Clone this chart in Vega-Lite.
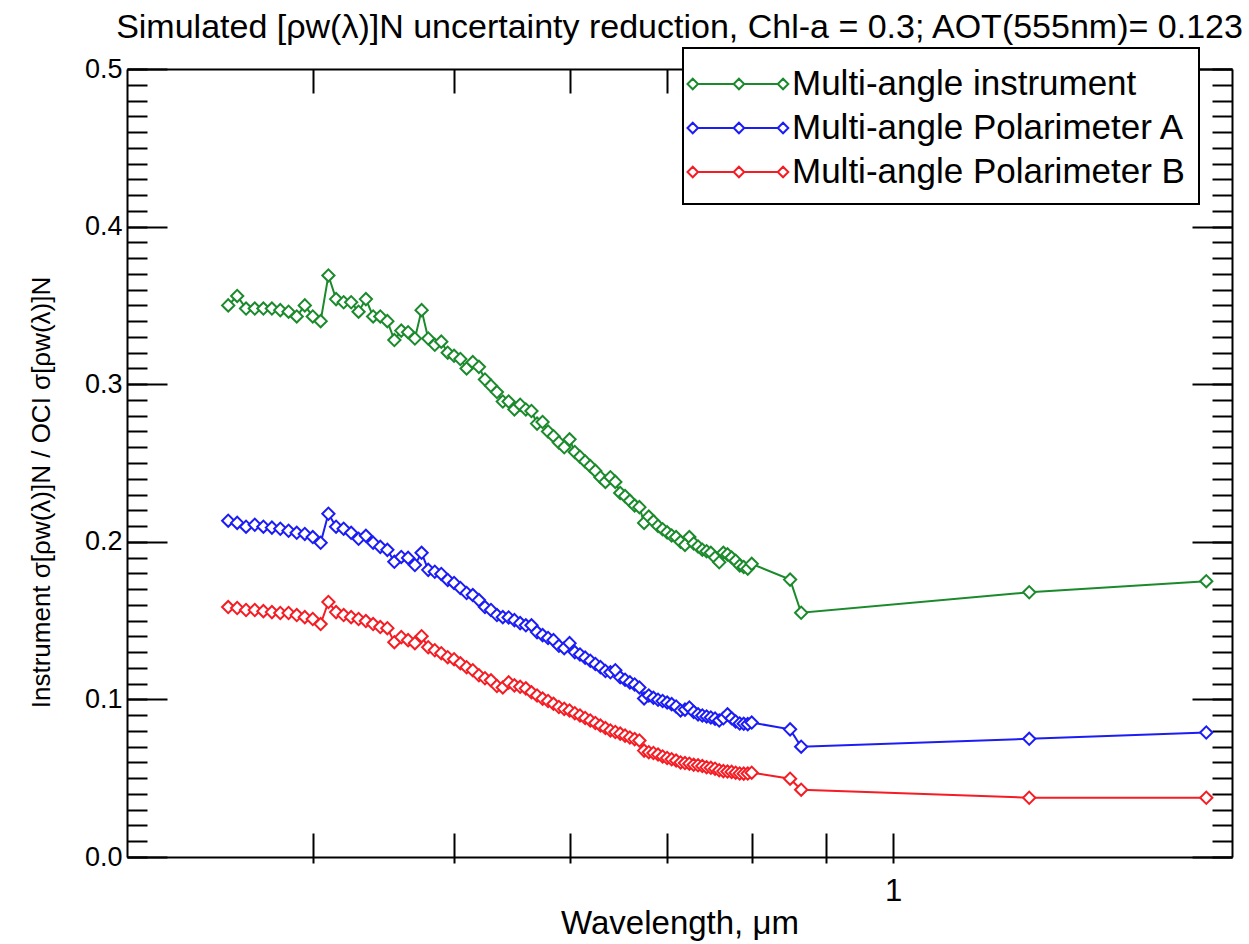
{
  "$schema": "https://vega.github.io/schema/vega-lite/v6.json",
  "width": 1105,
  "height": 788,
  "autosize": {"type": "none"},
  "padding": {"left": 127, "top": 69, "right": 17, "bottom": 87},
  "background": "white",
  "config": {
    "font": "Liberation Sans",
    "view": {"stroke": null},
    "legend": {"strokeWidth": 2},
    "axis": {"grid": false, "domainColor": "black", "domainWidth": 2, "tickColor": "black", "tickWidth": 2, "labelColor": "black", "titleColor": "black", "labelFont": "Liberation Sans", "titleFont": "Liberation Sans", "labelFontSize": 27, "titleFontSize": 26, "titleFontWeight": "normal", "labelOverlap": false, "labelFlush": false}
  },
  "title": {"text": "Simulated [ρw(λ)]N uncertainty reduction, Chl-a = 0.3; AOT(555nm)= 0.123", "font": "Liberation Sans", "fontSize": 34, "fontWeight": "normal", "color": "black", "anchor": "middle", "frame": "group", "offset": 2},
  "data": {
    "values": [
      {"w": 0.350, "g": 0.350, "b": 0.2134, "r": 0.1586},
      {"w": 0.355, "g": 0.356, "b": 0.2120, "r": 0.1580},
      {"w": 0.360, "g": 0.348, "b": 0.2096, "r": 0.1567},
      {"w": 0.365, "g": 0.348, "b": 0.2108, "r": 0.1567},
      {"w": 0.370, "g": 0.348, "b": 0.2096, "r": 0.1560},
      {"w": 0.375, "g": 0.348, "b": 0.2090, "r": 0.1554},
      {"w": 0.380, "g": 0.347, "b": 0.2083, "r": 0.1548},
      {"w": 0.385, "g": 0.346, "b": 0.2070, "r": 0.1548},
      {"w": 0.390, "g": 0.343, "b": 0.2057, "r": 0.1535},
      {"w": 0.395, "g": 0.350, "b": 0.2050, "r": 0.1522},
      {"w": 0.400, "g": 0.343, "b": 0.2030, "r": 0.1510},
      {"w": 0.405, "g": 0.340, "b": 0.1994, "r": 0.1478},
      {"w": 0.410, "g": 0.369, "b": 0.2178, "r": 0.1618},
      {"w": 0.415, "g": 0.354, "b": 0.2096, "r": 0.1554},
      {"w": 0.420, "g": 0.352, "b": 0.2083, "r": 0.1535},
      {"w": 0.425, "g": 0.352, "b": 0.2057, "r": 0.1522},
      {"w": 0.430, "g": 0.346, "b": 0.2019, "r": 0.1510},
      {"w": 0.435, "g": 0.354, "b": 0.2038, "r": 0.1497},
      {"w": 0.440, "g": 0.343, "b": 0.1994, "r": 0.1478},
      {"w": 0.445, "g": 0.343, "b": 0.1968, "r": 0.1459},
      {"w": 0.450, "g": 0.340, "b": 0.1949, "r": 0.1452},
      {"w": 0.455, "g": 0.328, "b": 0.1873, "r": 0.1363},
      {"w": 0.460, "g": 0.334, "b": 0.1904, "r": 0.1395},
      {"w": 0.465, "g": 0.333, "b": 0.1898, "r": 0.1376},
      {"w": 0.470, "g": 0.329, "b": 0.1853, "r": 0.1357},
      {"w": 0.475, "g": 0.347, "b": 0.1930, "r": 0.1401},
      {"w": 0.480, "g": 0.329, "b": 0.1822, "r": 0.1331},
      {"w": 0.485, "g": 0.325, "b": 0.1810, "r": 0.1312},
      {"w": 0.490, "g": 0.327, "b": 0.1796, "r": 0.1293},
      {"w": 0.495, "g": 0.320, "b": 0.1758, "r": 0.1268},
      {"w": 0.500, "g": 0.318, "b": 0.1739, "r": 0.1255},
      {"w": 0.505, "g": 0.316, "b": 0.1707, "r": 0.1229},
      {"w": 0.510, "g": 0.310, "b": 0.1675, "r": 0.1204},
      {"w": 0.515, "g": 0.314, "b": 0.1662, "r": 0.1185},
      {"w": 0.520, "g": 0.311, "b": 0.1630, "r": 0.1153},
      {"w": 0.525, "g": 0.303, "b": 0.1586, "r": 0.1134},
      {"w": 0.530, "g": 0.299, "b": 0.1567, "r": 0.1121},
      {"w": 0.535, "g": 0.295, "b": 0.1535, "r": 0.1085},
      {"w": 0.540, "g": 0.289, "b": 0.1522, "r": 0.1076},
      {"w": 0.545, "g": 0.289, "b": 0.1520, "r": 0.1108},
      {"w": 0.550, "g": 0.284, "b": 0.1503, "r": 0.1089},
      {"w": 0.555, "g": 0.287, "b": 0.1484, "r": 0.1080},
      {"w": 0.560, "g": 0.284, "b": 0.1470, "r": 0.1070},
      {"w": 0.565, "g": 0.283, "b": 0.1470, "r": 0.1045},
      {"w": 0.570, "g": 0.275, "b": 0.1427, "r": 0.1025},
      {"w": 0.575, "g": 0.276, "b": 0.1408, "r": 0.1005},
      {"w": 0.580, "g": 0.270, "b": 0.1390, "r": 0.0990},
      {"w": 0.585, "g": 0.267, "b": 0.1376, "r": 0.0972},
      {"w": 0.590, "g": 0.263, "b": 0.1340, "r": 0.0952},
      {"w": 0.595, "g": 0.260, "b": 0.1325, "r": 0.0940},
      {"w": 0.600, "g": 0.265, "b": 0.1357, "r": 0.0930},
      {"w": 0.605, "g": 0.257, "b": 0.1300, "r": 0.0912},
      {"w": 0.610, "g": 0.254, "b": 0.1285, "r": 0.0898},
      {"w": 0.615, "g": 0.251, "b": 0.1265, "r": 0.0882},
      {"w": 0.620, "g": 0.248, "b": 0.1245, "r": 0.0866},
      {"w": 0.625, "g": 0.245, "b": 0.1225, "r": 0.0850},
      {"w": 0.630, "g": 0.241, "b": 0.1205, "r": 0.0834},
      {"w": 0.635, "g": 0.238, "b": 0.1180, "r": 0.0818},
      {"w": 0.640, "g": 0.241, "b": 0.1172, "r": 0.0803},
      {"w": 0.645, "g": 0.238, "b": 0.1185, "r": 0.0793},
      {"w": 0.650, "g": 0.231, "b": 0.1140, "r": 0.0783},
      {"w": 0.655, "g": 0.229, "b": 0.1125, "r": 0.0770},
      {"w": 0.660, "g": 0.226, "b": 0.1108, "r": 0.0758},
      {"w": 0.665, "g": 0.223, "b": 0.1095, "r": 0.0748},
      {"w": 0.670, "g": 0.222, "b": 0.1076, "r": 0.0739},
      {"w": 0.675, "g": 0.212, "b": 0.1006, "r": 0.0675},
      {"w": 0.680, "g": 0.216, "b": 0.1025, "r": 0.0665},
      {"w": 0.685, "g": 0.213, "b": 0.1010, "r": 0.0660},
      {"w": 0.690, "g": 0.210, "b": 0.0998, "r": 0.0650},
      {"w": 0.695, "g": 0.208, "b": 0.0990, "r": 0.0638},
      {"w": 0.700, "g": 0.206, "b": 0.0980, "r": 0.0628},
      {"w": 0.705, "g": 0.204, "b": 0.0970, "r": 0.0620},
      {"w": 0.710, "g": 0.203, "b": 0.0955, "r": 0.0612},
      {"w": 0.715, "g": 0.200, "b": 0.0930, "r": 0.0600},
      {"w": 0.720, "g": 0.198, "b": 0.0935, "r": 0.0596},
      {"w": 0.725, "g": 0.203, "b": 0.0949, "r": 0.0592},
      {"w": 0.730, "g": 0.199, "b": 0.0920, "r": 0.0585},
      {"w": 0.735, "g": 0.197, "b": 0.0905, "r": 0.0582},
      {"w": 0.740, "g": 0.195, "b": 0.0898, "r": 0.0577},
      {"w": 0.745, "g": 0.194, "b": 0.0892, "r": 0.0570},
      {"w": 0.750, "g": 0.193, "b": 0.0885, "r": 0.0566},
      {"w": 0.755, "g": 0.190, "b": 0.0878, "r": 0.0560},
      {"w": 0.760, "g": 0.187, "b": 0.0866, "r": 0.0550},
      {"w": 0.765, "g": 0.193, "b": 0.0880, "r": 0.0545},
      {"w": 0.770, "g": 0.192, "b": 0.0905, "r": 0.0542},
      {"w": 0.775, "g": 0.190, "b": 0.0880, "r": 0.0540},
      {"w": 0.780, "g": 0.188, "b": 0.0860, "r": 0.0535},
      {"w": 0.785, "g": 0.185, "b": 0.0847, "r": 0.0530},
      {"w": 0.790, "g": 0.184, "b": 0.0845, "r": 0.0529},
      {"w": 0.795, "g": 0.183, "b": 0.0843, "r": 0.0530},
      {"w": 0.800, "g": 0.186, "b": 0.0853, "r": 0.0535},
      {"w": 0.850, "g": 0.176, "b": 0.0810, "r": 0.0497},
      {"w": 0.865, "g": 0.155, "b": 0.0700, "r": 0.0427},
      {"w": 1.240, "g": 0.168, "b": 0.0750, "r": 0.0376},
      {"w": 1.640, "g": 0.175, "b": 0.0790, "r": 0.0376}
    ]
  },
  "transform": [{"fold": ["g", "b", "r"], "as": ["series", "value"]}],
  "resolve": {"axis": {"x": "independent", "y": "independent"}},
  "layer": [
    {
      "mark": {"type": "line", "strokeWidth": 2},
      "encoding": {
        "x": {"field": "w", "type": "quantitative", "scale": {"type": "log", "domain": [0.2983, 1.708], "nice": false},
          "axis": {"orient": "bottom", "values": [0.4, 0.5, 0.6, 0.7, 0.8, 0.9, 1], "tickSize": -24, "labelPadding": 43, "labelFontSize": 31, "labelExpr": "datum.value == 1 ? '1' : ''", "title": "Wavelength, μm", "titleFontSize": 33, "titlePadding": 1}},
        "y": {"field": "value", "type": "quantitative", "scale": {"domain": [0, 0.5], "nice": false},
          "axis": {"orient": "left", "values": [0, 0.1, 0.2, 0.3, 0.4, 0.5], "tickSize": -40, "labelPadding": 45, "format": ".1f", "title": "Instrument σ[ρw(λ)]N / OCI σ[ρw(λ)]N", "titlePadding": 30, "titleY": 423}},
        "stroke": {"field": "series", "type": "nominal",
          "scale": {"domain": ["g", "b", "r"], "range": ["#1b8a2c", "#1c1cf5", "#f51c24"]},
          "legend": {
            "title": null, "orient": "none", "legendX": 556, "legendY": -21,
            "symbolType": "M-1.5,0L-1.25,-0.25L-1,0L-1.25,0.25Z M-1,0H0.7 M0.7,0L0.95,-0.25L1.2,0L0.95,0.25Z M1.2,0H2.8 M2.8,0L3.05,-0.25L3.3,0L3.05,0.25Z",
            "symbolSize": 1764, "symbolStrokeWidth": 2, "symbolFillColor": "white",
            "labelFont": "Liberation Sans", "labelFontSize": 35, "labelColor": "black", "labelOffset": 51, "labelLimit": 700,
            "labelExpr": "datum.value == 'g' ? 'Multi-angle instrument' : datum.value == 'b' ? 'Multi-angle Polarimeter A' : 'Multi-angle Polarimeter B'",
            "padding": 14, "rowPadding": 4, "strokeColor": "black", "fillColor": "white"
          }}
      }
    },
    {
      "mark": {"type": "point", "shape": "diamond", "filled": true, "fill": "white", "strokeWidth": 2, "size": 150, "opacity": 1},
      "encoding": {
        "x": {"field": "w", "type": "quantitative",
          "axis": {"orient": "top", "values": [0.4, 0.5, 0.6, 0.7, 0.8, 0.9, 1], "tickSize": -24, "labels": false, "title": null}},
        "y": {"field": "value", "type": "quantitative",
          "axis": {"orient": "left", "values": [0, 0.01, 0.02, 0.03, 0.04, 0.05, 0.06, 0.07, 0.08, 0.09, 0.1, 0.11, 0.12, 0.13, 0.14, 0.15, 0.16, 0.17, 0.18, 0.19, 0.2, 0.21, 0.22, 0.23, 0.24, 0.25, 0.26, 0.27, 0.28, 0.29, 0.3, 0.31, 0.32, 0.33, 0.34, 0.35, 0.36, 0.37, 0.38, 0.39, 0.4, 0.41, 0.42, 0.43, 0.44, 0.45, 0.46, 0.47, 0.48, 0.49, 0.5], "tickSize": -20, "labels": false, "domain": false, "title": null}},
        "stroke": {"field": "series", "type": "nominal"}
      }
    },
    {
      "mark": {"type": "point", "opacity": 0},
      "encoding": {
        "x": {"field": "w", "type": "quantitative",
          "axis": {"orient": "bottom", "values": [0.4, 0.5, 0.6, 0.7, 0.8, 0.9, 1], "tickSize": 6, "labels": false, "domain": false, "title": null}},
        "y": {"field": "value", "type": "quantitative",
          "axis": {"orient": "right", "values": [0, 0.1, 0.2, 0.3, 0.4, 0.5], "tickSize": -40, "labels": false, "title": null}}
      }
    },
    {
      "mark": {"type": "point", "opacity": 0},
      "encoding": {
        "x": {"field": "w", "type": "quantitative", "axis": null},
        "y": {"field": "value", "type": "quantitative",
          "axis": {"orient": "right", "values": [0, 0.01, 0.02, 0.03, 0.04, 0.05, 0.06, 0.07, 0.08, 0.09, 0.1, 0.11, 0.12, 0.13, 0.14, 0.15, 0.16, 0.17, 0.18, 0.19, 0.2, 0.21, 0.22, 0.23, 0.24, 0.25, 0.26, 0.27, 0.28, 0.29, 0.3, 0.31, 0.32, 0.33, 0.34, 0.35, 0.36, 0.37, 0.38, 0.39, 0.4, 0.41, 0.42, 0.43, 0.44, 0.45, 0.46, 0.47, 0.48, 0.49, 0.5], "tickSize": -20, "labels": false, "domain": false, "title": null}}
      }
    }
  ]
}
